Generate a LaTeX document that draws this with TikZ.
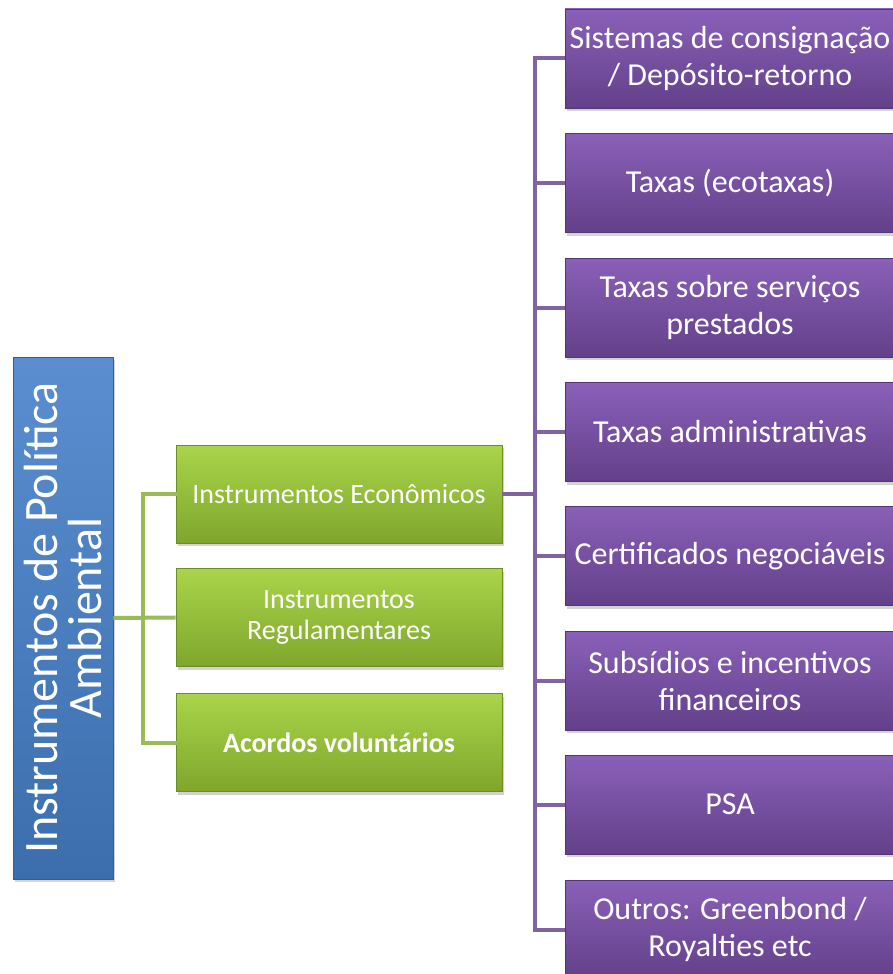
\documentclass[tikz,border=0pt]{standalone}
\usepackage{fontspec}
\setmainfont{Carlito}
\usetikzlibrary{shadows}
\definecolor{purT}{HTML}{8A60B8}
\definecolor{purB}{HTML}{63408A}
\definecolor{purL}{HTML}{8064A2}
\definecolor{grnT}{HTML}{AAD44A}
\definecolor{grnB}{HTML}{7FA62C}
\definecolor{grnL}{HTML}{9BBB59}
\definecolor{bluT}{HTML}{5A8ED0}
\definecolor{bluB}{HTML}{3C6EAD}
\tikzset{
  boxbase/.style={rectangle, text=white, align=center, inner sep=1pt,
    drop shadow={shadow xshift=1.5pt, shadow yshift=-3pt, opacity=0.35}},
  pbox/.style={boxbase, minimum width=330pt, minimum height=99pt,
    top color=purT, bottom color=purB, draw=purB!85!black, line width=0.6pt,
    font=\fontsize{32}{37}\selectfont},
  gbox/.style={boxbase, minimum width=326pt, minimum height=98pt,
    top color=grnT, bottom color=grnB, draw=grnB!85!black, line width=0.6pt,
    font=\fontsize{28}{31}\selectfont},
  bbox/.style={boxbase, minimum width=522pt, minimum height=100pt, rotate=90,
    top color=bluT, bottom color=bluB, draw=bluB!85!black, line width=0.6pt,
    font=\fontsize{48}{44}\selectfont},
  gline/.style={draw=grnL, line width=4pt},
  pline/.style={draw=purL, line width=4pt},
}
\begin{document}
\begin{tikzpicture}[x=1pt,y=-1pt]
\useasboundingbox (0,0) rectangle (893,974);
\coordinate (bus) at (535,0);
\begin{scope}
\clip (0,0) rectangle (893,974);
\node[bbox] (blue) at (63,618) {Instrumentos de Política\\Ambiental};
\node[gbox] (g1) at (339,494) {Instrumentos Econômicos};
\node[gbox] (g2) at (339,617.5) {Instrumentos\\Regulamentares};
\node[gbox] (g3) at (339,742.5) {\textbf{Acordos voluntários}};
\node[pbox] (p1) at (730,58.5) {Sistemas de consignação\\/ Depósito-retorno};
\node[pbox] (p2) at (730,183) {Taxas (ecotaxas)};
\node[pbox] (p3) at (730,307.5) {Taxas sobre serviços\\prestados};
\node[pbox] (p4) at (730,432) {Taxas administrativas};
\node[pbox] (p5) at (730,556) {Certificados negociáveis};
\node[pbox] (p6) at (730,680.5) {Subsídios e incentivos\\financeiros};
\node[pbox] (p7) at (730,804.5) {PSA};
\node[pbox] (p8) at (730,929.5) {Outros: Greenbond /\\Royalties etc};
\end{scope}
% green connectors
\draw[gline] (blue.south) -- (g2.west);
\draw[gline, line cap=rect] (g1.west) -- ++(-33,0) |- (g3.west);
% purple connectors
\draw[pline] (g1.east) -- (g1.east -| bus);
\draw[pline, line cap=rect] (p1.west -| bus) -- (p8.west -| bus);
\foreach \k in {p1,p2,p3,p4,p5,p6,p7,p8}{
  \draw[pline] (\k.west) -- (\k.west -| bus);
}
\end{tikzpicture}
\end{document}
